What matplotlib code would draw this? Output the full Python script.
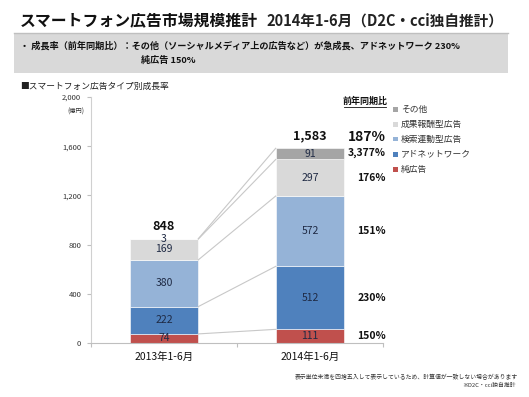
import matplotlib.pyplot as plt
import matplotlib.patches as mpatches
import numpy as np

plt.rcParams['font.family'] = ['Noto Sans CJK JP', 'DejaVu Sans']

periods = ["2013年1-6月", "2014年1-6月"]
types = ["純広告", "アドネットワーク", "検索連動型広告", "成果報酬型広告", "その他"]
v2013 = [74, 222, 380, 169, 3]
v2014 = [111, 512, 572, 297, 91]
totals = [848, 1583]
growth = ["150%", "230%", "151%", "176%", "3,377%"]
total_growth = "187%"
yticks = [0, 400, 800, 1200, 1600, 2000]
colors = ["#C0504D", "#4F81BD", "#95B3D7", "#D9D9D9", "#A5A5A5"]

W, H = 529, 397
fig = plt.figure(figsize=(W / 100, H / 100), dpi=100)


def fx(px):
    return px / W


def fy(py):
    return 1 - py / H


# header
fig.text(fx(20), fy(20), "スマートフォン広告市場規模推計", fontsize=11.4, fontweight='bold',
         va='center', ha='left', color='#111111')
fig.text(fx(266), fy(21), "2014年1-6月（D2C・cci独自推計）", fontsize=10.5, fontweight='bold',
         va='center', ha='left', color='#222222')
fig.patches.append(mpatches.Rectangle((fx(14), fy(73)), fx(508 - 14), (73 - 33) / H,
                                      transform=fig.transFigure, facecolor='#D9D9D9',
                                      edgecolor='none'))
fig.lines.append(plt.Line2D([fx(14), fx(508)], [fy(33), fy(33)], transform=fig.transFigure,
                            color='#BFBFBF', lw=1))
fig.text(fx(20), fy(46), "・ 成長率（前年同期比）：その他（ソーシャルメディア上の広告など）が急成長、アドネットワーク 230%",
         fontsize=6.6, fontweight='bold', va='center', ha='left', color='#111111')
fig.text(fx(141), fy(60), "純広告 150%", fontsize=6.6, fontweight='bold', va='center', ha='left',
         color='#111111')
fig.text(fx(20), fy(86), "■スマートフォン広告タイプ別成長率", fontsize=6.3, va='center', ha='left',
         color='#222222')

ax = fig.add_axes([fx(91), fy(343), fx(383 - 91), (343 - 97) / H])
x = np.arange(len(periods))
width = 0.47
data = np.array([v2013, v2014])
bottoms = np.zeros(2)
for i, t in enumerate(types):
    ax.bar(x, data[:, i], width, bottom=bottoms, color=colors[i], edgecolor='white', lw=0.4,
           label=t)
    for j in range(2):
        ax.text(x[j], bottoms[j] + data[j, i] / 2, str(data[j, i]), ha='center', va='center',
                fontsize=7.5, color='#1F2A44')
    # series lines between bars
    tops = bottoms + data[:, i]
    ax.plot([x[0] + width / 2, x[1] - width / 2], tops, color='#C8C8C8', lw=0.8)
    bottoms = tops

for j in range(2):
    ax.text(x[j], totals[j] + 45, f"{totals[j]:,}", ha='center', va='bottom', fontsize=9,
            fontweight='bold', color='#111111')

ax.set_xlim(-0.5, 1.5)
ax.set_ylim(0, 2000)
ax.set_yticks(yticks)
ax.set_yticklabels([f"{v:,}" for v in yticks], fontsize=5.5, color='#333333')
ax.set_xticks([-0.5, 0.5, 1.5])
ax.set_xticklabels([])
ax.set_xticks(x, minor=True)
ax.set_xticklabels(periods, minor=True, fontsize=7.5, color='#111111')
ax.tick_params(axis='x', which='minor', length=0, pad=6)
ax.tick_params(axis='x', which='major', length=3, color='#BFBFBF')
ax.tick_params(axis='y', length=3, color='#BFBFBF', pad=4)
for s in ['top', 'right']:
    ax.spines[s].set_visible(False)
ax.spines['left'].set_color('#D0D0D0')
ax.spines['bottom'].set_color('#BFBFBF')
fig.text(fx(76), fy(112), "(億円)", fontsize=4.5, ha='center', va='center', color='#333333')

# growth labels
cum = np.cumsum(v2014) - np.array(v2014) / 2
for i, g in enumerate(growth):
    yv = cum[i]
    if i == 4:
        yv = 1545
    ax.text(1.0 + 0.52, yv, g, ha='right', va='center', fontsize=7.5, fontweight='bold',
            color='#111111', clip_on=False)
ax.text(1.52, totals[1] + 35, total_growth, ha='right', va='bottom', fontsize=10,
        fontweight='bold', color='#111111', clip_on=False)

fig.text(fx(365), fy(101), "前年同期比", fontsize=6.5, fontweight='bold', ha='center',
         va='center', color='#111111')
fig.lines.append(plt.Line2D([fx(344), fx(386)], [fy(107), fy(107)], transform=fig.transFigure,
                            color='#111111', lw=0.6))

# legend (top to bottom: その他 ... 純広告)
for k, i in enumerate(range(len(types) - 1, -1, -1)):
    yy = 109 + 15 * k
    fig.patches.append(mpatches.Rectangle((fx(393), fy(yy + 2.5)), 5 / W, 5 / H,
                                          transform=fig.transFigure, facecolor=colors[i],
                                          edgecolor='none'))
    fig.text(fx(401), fy(yy), types[i], fontsize=6.3, ha='left', va='center', color='#333333')

fig.text(fx(518), fy(377), "表示単位未満を四捨五入して表示しているため、計算値が一致しない場合があります",
         fontsize=4.2, ha='right', va='center', color='#333333')
fig.text(fx(516), fy(385), "※D2C・cci独自推計", fontsize=4.2, ha='right', va='center',
         color='#333333')

fig.savefig("out.png", dpi=100)
